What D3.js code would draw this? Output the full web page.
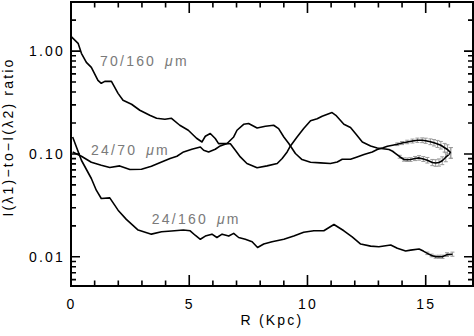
<!DOCTYPE html>
<html><head><meta charset="utf-8">
<script src="https://cdn.jsdelivr.net/npm/d3@7"></script>
<style>
body{margin:0;background:#fff}
svg{display:block}
text{font-family:"Liberation Sans",Arial,Helvetica,sans-serif}
</style>
</head><body>
<svg id="c" width="474" height="336"></svg>
<script>
const R_70_160 = [0.0,0.3,0.44,0.65,0.86,1.14,1.28,1.43,1.71,1.99,2.2,2.56,2.91,3.33,3.62,3.97,4.25,4.6,4.96,5.31,5.54,5.68,5.89,6.1,6.24,6.6,6.74,6.95,7.16,7.44,7.87,8.29,8.72,8.93,9.14,9.28,9.56,9.84,10.13,10.41,10.62,11.04,11.2,11.54,11.82,12.03,12.32,12.67,12.95,13.2,13.45,13.6,13.73,13.9,14.08,14.22,14.36,14.55,14.72,14.9,15.07,15.28,15.42,15.56,15.7,15.85,16.06];
const V_70_160 = [1.39,1.19,0.950,0.777,0.695,0.519,0.486,0.508,0.508,0.388,0.332,0.304,0.266,0.2375,0.222,0.217,0.222,0.190,0.170,0.142,0.1307,0.1485,0.1578,0.1411,0.126,0.126,0.1256,0.1086,0.0935,0.0807,0.0735,0.0765,0.0807,0.0902,0.1046,0.1196,0.1462,0.1764,0.210,0.2196,0.2323,0.2522,0.2375,0.1942,0.1804,0.1578,0.1307,0.1196,0.1143,0.1123,0.1104,0.1062,0.1009,0.0939,0.0882,0.0878,0.0882,0.0902,0.0915,0.0892,0.0868,0.0825,0.0816,0.0825,0.0859,0.0929,0.1023];
const E_70_160 = [null,null,null,null,null,null,null,null,null,null,null,null,null,null,null,null,null,null,null,null,null,null,null,null,null,null,null,null,null,null,null,null,null,null,null,null,null,null,null,null,null,null,null,null,null,null,null,null,null,null,null,null,null,0.014,0.016,0.017,0.018,0.02,0.022,0.024,0.027,0.03,0.032,0.035,0.038,0.044,0.052];

const R_24_70 = [0.07,0.44,0.86,1.28,1.64,2.06,2.49,2.98,3.4,3.83,4.19,4.48,4.76,5.11,5.47,5.61,5.82,6.1,6.31,6.6,6.88,7.02,7.3,7.51,7.87,8.22,8.57,8.78,9.0,9.21,9.49,9.77,10.13,10.55,10.97,11.26,11.47,11.82,12.1,12.39,12.74,12.95,13.2,13.38,13.6,13.8,14.0,14.22,14.44,14.65,14.85,15.0,15.2,15.35,15.5,15.64,15.8,15.92,16.06];
const V_24_70 = [0.1046,0.0950,0.0831,0.0777,0.0738,0.0765,0.0706,0.0710,0.0760,0.0836,0.0902,0.0950,0.1046,0.1110,0.1169,0.1086,0.1046,0.1110,0.1196,0.1262,0.1462,0.1699,0.1942,0.1973,0.1788,0.1857,0.1900,0.1764,0.1462,0.1262,0.1009,0.0882,0.0831,0.0818,0.0807,0.0836,0.0888,0.0888,0.0935,0.0987,0.1046,0.1104,0.1149,0.1188,0.1215,0.1242,0.1276,0.1307,0.1334,0.1358,0.1358,0.1343,0.1313,0.1284,0.1251,0.1215,0.1149,0.1104,0.1023];
const E_24_70 = [null,null,null,null,null,null,null,null,null,null,null,null,null,null,null,null,null,null,null,null,null,null,null,null,null,null,null,null,null,null,null,null,null,null,null,null,null,null,null,null,null,null,null,null,null,0.013,0.015,0.017,0.019,0.021,0.023,0.025,0.028,0.031,0.034,0.037,0.042,0.046,0.052];

const R_24_160 = [0.07,0.44,0.86,1.07,1.28,1.64,1.99,2.34,2.84,3.4,3.83,4.25,4.75,5.04,5.25,5.47,5.68,5.96,6.17,6.39,6.67,6.88,7.09,7.37,7.66,7.89,8.15,8.5,9.0,9.42,9.84,10.27,10.69,11.12,11.54,11.89,12.25,12.67,13.02,13.52,13.8,14.15,14.36,14.72,14.9,15.07,15.25,15.42,15.56,15.71,15.9,16.13];
const V_24_160 = [0.1462,0.0868,0.0577,0.0444,0.0369,0.0374,0.0284,0.0231,0.0182,0.0166,0.0175,0.0178,0.0182,0.0179,0.0162,0.0148,0.0159,0.0166,0.0154,0.0166,0.0159,0.0169,0.0154,0.0148,0.0140,0.0123,0.0133,0.0140,0.0148,0.0159,0.0173,0.0179,0.0179,0.0206,0.0179,0.0156,0.0133,0.0127,0.0125,0.0130,0.0121,0.0114,0.0116,0.0119,0.01136,0.0108,0.0103,0.0100,0.0100,0.0100,0.0105,0.0106];
const E_24_160 = [null,null,null,null,null,null,null,null,null,null,null,null,null,null,null,null,null,null,null,null,null,null,null,null,null,null,null,null,null,null,null,null,null,null,null,null,null,null,null,null,null,null,null,null,null,0.012,0.013,0.014,0.015,0.016,0.018,0.02];

const xMajor = [0,5,10,15];
const xMinor = [1,2,3,4,6,7,8,9,11,12,13,14,16];
const yMajor = [0.01,0.1,1];
const yMinor = [0.006,0.007,0.008,0.009,0.02,0.03,0.04,0.05,0.06,0.07,0.08,0.09,0.2,0.3,0.4,0.5,0.6,0.7,0.8,0.9,2];
const labels = [
  {t:"70/160", x:1.23, y:0.72},
  {t:"24/70", x:0.85, y:0.0971},
  {t:"24/160", x:3.42, y:0.0208}
];
const yTitle = "I(\u03bb1)\u2212to\u2212I(\u03bb2) ratio";
const xTitle = "R (Kpc)";

const svg = d3.select("#c");
const L=71, Rt=473, T=2, B=286;
const x = d3.scaleLinear().domain([0,17]).range([L,Rt]);
const y = d3.scaleLog().domain([0.0052,3]).range([B,T]);
const LS = "2.2px";

function lab(g){
  g.attr("font-family",null).attr("font-size",null);
  g.selectAll("line").remove();
  g.select(".domain").remove();
  g.selectAll("text").attr("fill","#000").style("font-size","14px").style("letter-spacing",LS);
}
svg.append("g").attr("transform",`translate(0,${B})`)
  .call(d3.axisBottom(x).tickValues(xMajor).tickSize(0).tickPadding(13).tickFormat(d3.format("d"))).call(lab);
svg.append("g").attr("transform",`translate(${L},0)`)
  .call(d3.axisLeft(y).tickValues(yMajor).tickSize(0).tickPadding(6).tickFormat(d3.format(".2f"))).call(lab);

// tick marks (inward, on all four sides)
function xPath(vals,len){
  return vals.map(d=>`M${x(d)},${B}V${B-len}M${x(d)},${T}V${T+len}`).join("");
}
function yPath(vals,len){
  return vals.map(d=>`M${L},${y(d)}H${L+len}M${Rt},${y(d)}H${Rt-len}`).join("");
}
svg.append("path").attr("d",xPath(xMajor,11)+xPath(xMinor,5.5)+yPath(yMajor,9)+yPath(yMinor,5))
  .attr("fill","none").attr("stroke","#000").attr("stroke-width",1.6);

svg.append("rect").attr("x",L).attr("y",T).attr("width",Rt-L).attr("height",B-T)
  .attr("fill","none").attr("stroke","#000").attr("stroke-width",2);

const line = d3.line().x(d=>x(d.r)).y(d=>y(d.v));
const series = [[R_70_160,V_70_160,E_70_160],[R_24_70,V_24_70,E_24_70],[R_24_160,V_24_160,E_24_160]];
series.forEach(([Rs,Vs,Es])=>{
  const pts = Rs.map((r,i)=>({r, v:Vs[i], e:Es[i]}));
  const eb = pts.filter(p=>p.e!=null);
  const g = svg.append("g").attr("stroke","#9a9a9a").attr("stroke-width",1);
  g.selectAll("line.v").data(eb).join("line").attr("class","v")
    .attr("x1",p=>x(p.r)).attr("x2",p=>x(p.r))
    .attr("y1",p=>y(p.v*Math.pow(10,p.e))).attr("y2",p=>y(p.v*Math.pow(10,-p.e)));
  g.selectAll("line.t").data(eb).join("line").attr("class","t")
    .attr("x1",p=>x(p.r)-2).attr("x2",p=>x(p.r)+2)
    .attr("y1",p=>y(p.v*Math.pow(10,p.e))).attr("y2",p=>y(p.v*Math.pow(10,p.e)));
  g.selectAll("line.b").data(eb).join("line").attr("class","b")
    .attr("x1",p=>x(p.r)-2).attr("x2",p=>x(p.r)+2)
    .attr("y1",p=>y(p.v*Math.pow(10,-p.e))).attr("y2",p=>y(p.v*Math.pow(10,-p.e)));
  svg.append("path").datum(pts).attr("d",line).attr("fill","none")
    .attr("stroke","#000").attr("stroke-width",1.6).attr("stroke-linejoin","round");
});

labels.forEach(l=>{
  const t = svg.append("text").attr("x",x(l.x)).attr("y",y(l.y))
    .attr("fill","#7a7a7a").style("font-size","14px").style("letter-spacing",LS);
  t.append("tspan").text(l.t);
  t.append("tspan").attr("dx",9).style("font-style","italic").text("\u03bc");
  t.append("tspan").text("m");
});

svg.append("text").attr("x",(L+Rt)/2).attr("y",325).attr("text-anchor","middle")
  .style("font-size","14px").style("letter-spacing",LS).text(xTitle);
svg.append("text").attr("transform","translate(13,137) rotate(-90)").attr("text-anchor","middle")
  .style("font-size","14px").style("letter-spacing",LS).text(yTitle);
</script>
</body></html>
